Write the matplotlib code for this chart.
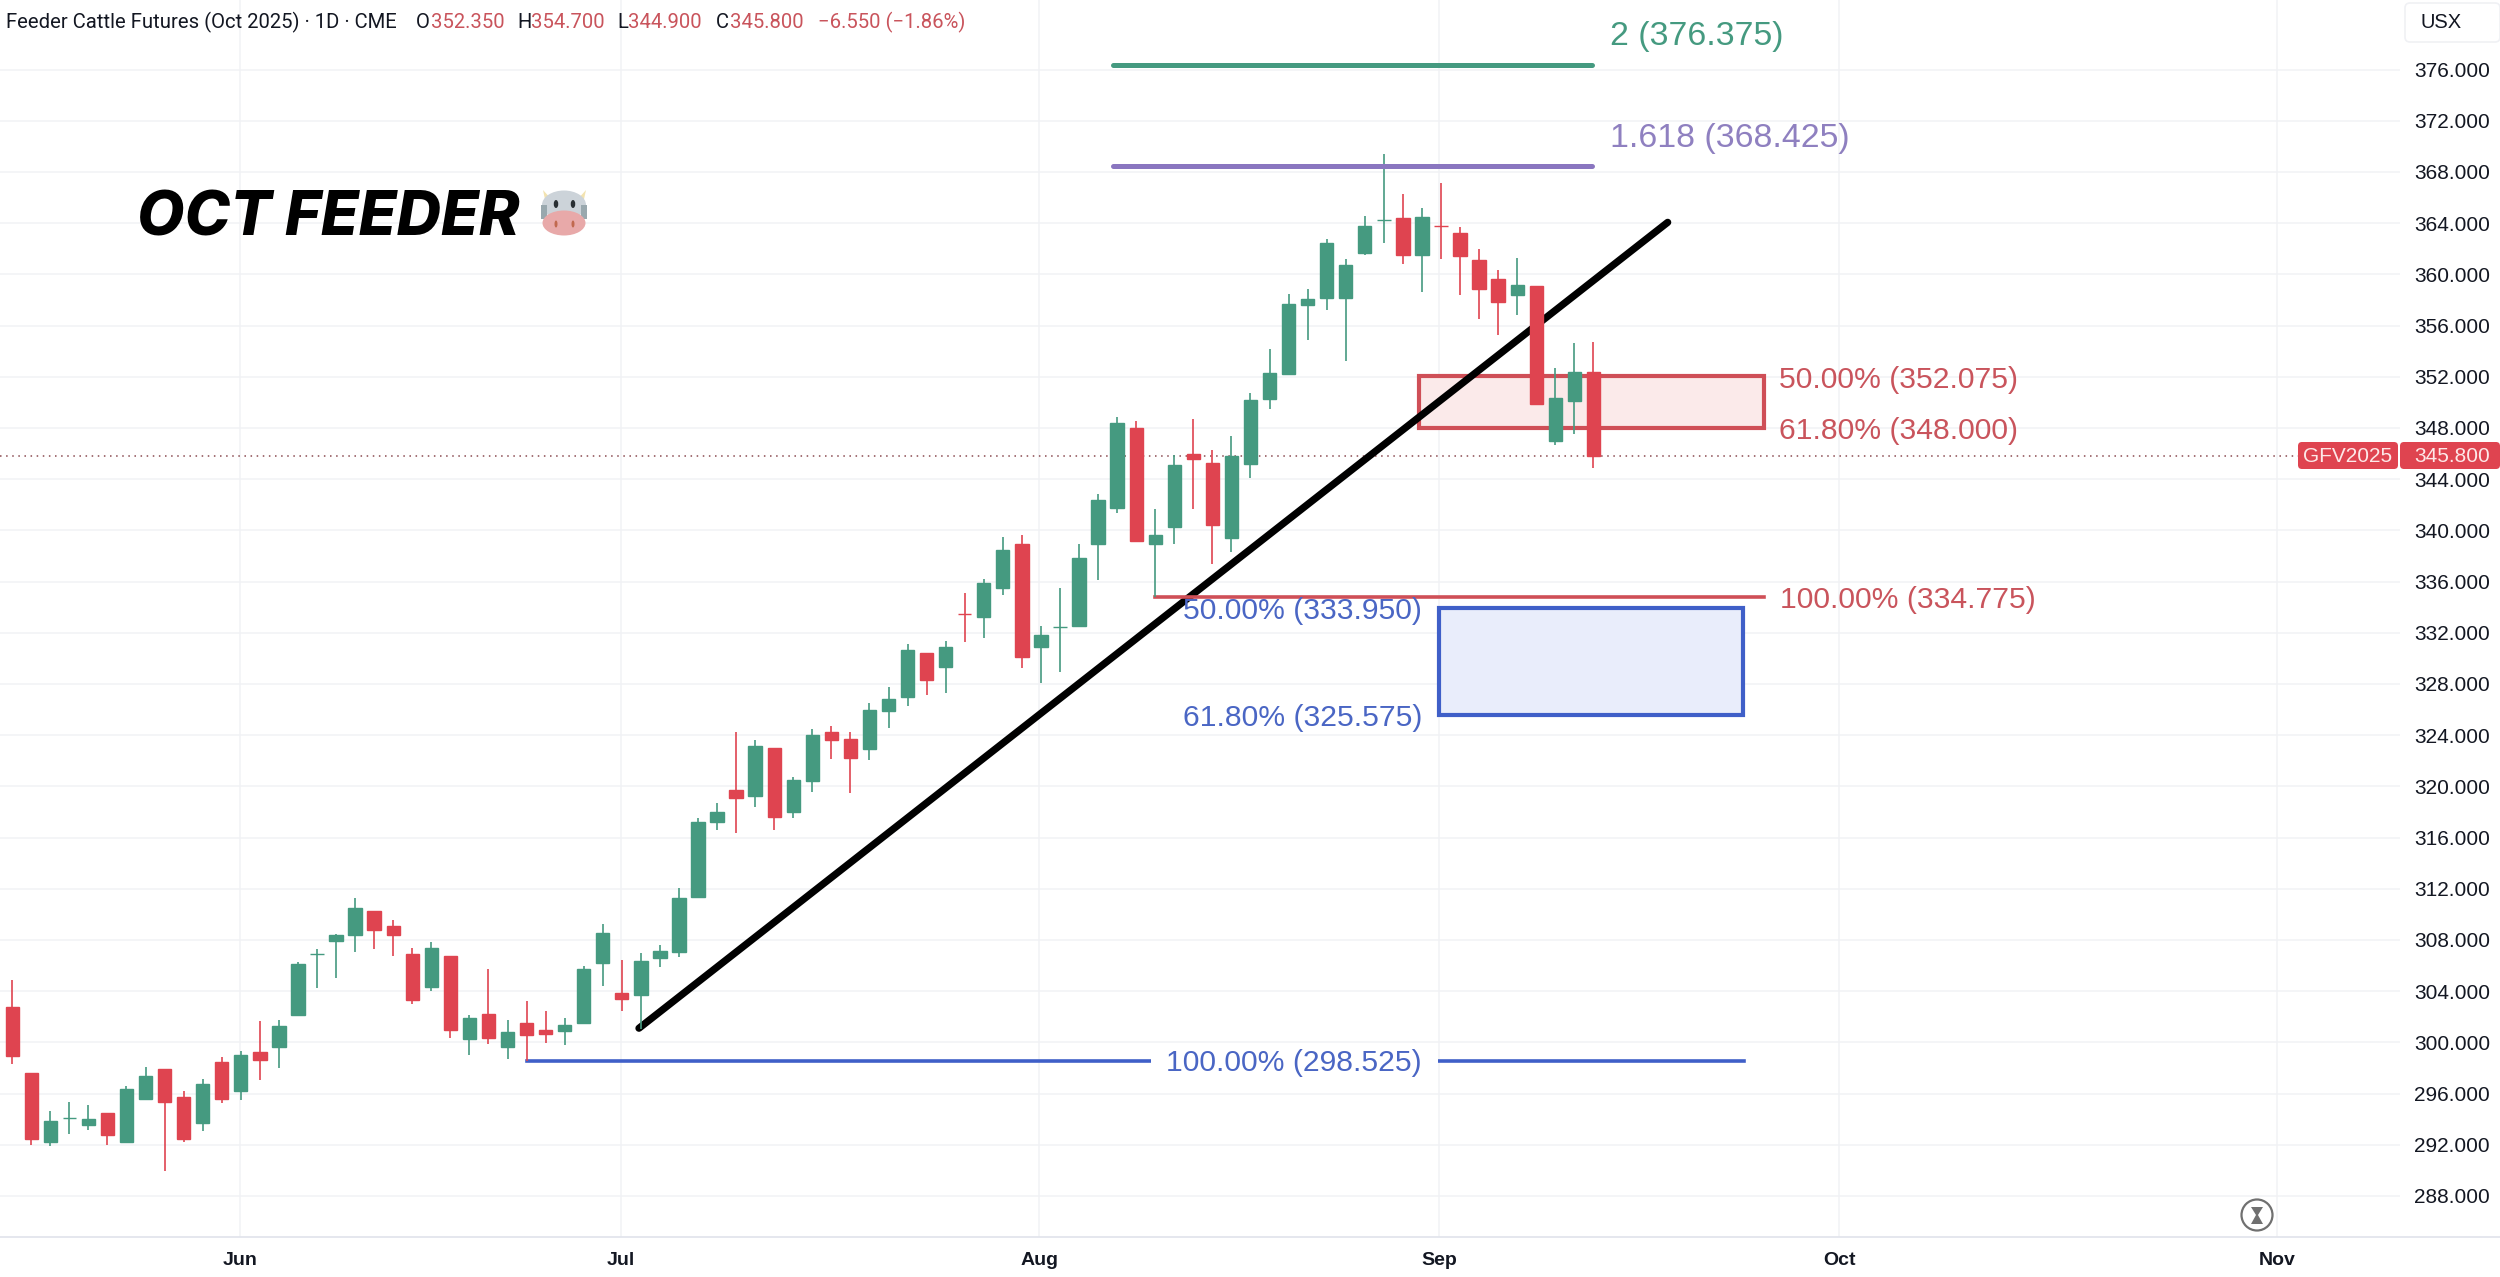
import matplotlib
matplotlib.use("Agg")
import matplotlib.pyplot as plt
from matplotlib.patches import Rectangle, Ellipse, Circle, Polygon, FancyBboxPatch
from matplotlib.lines import Line2D
from matplotlib.transforms import Affine2D

# daily candles, first one is mid May
opens = [302.75, 297.64, 292.20, 294.05, 293.55, 294.46, 292.20, 295.61, 297.95, 295.71, 293.68, 298.45,
         296.23, 299.26, 299.62, 302.10, 306.92, 307.91, 308.35, 310.25, 309.06, 306.92, 304.29, 306.74,
         300.25, 302.20, 299.62, 301.50, 300.95, 300.85, 301.52, 306.21, 303.82, 303.67, 306.60, 307.02,
         311.37, 317.20, 319.73, 319.23, 322.97, 317.98, 320.43, 324.28, 323.66, 322.94, 325.92, 326.98,
         330.44, 329.29, 333.48, 333.25, 335.48, 338.91, 330.88, 332.42, 332.56, 338.94, 341.73, 347.96,
         338.94, 340.27, 345.96, 345.28, 339.39, 345.15, 350.25, 352.18, 357.63, 358.12, 358.18, 361.67,
         364.22, 364.38, 361.49, 363.75, 363.21, 361.15, 359.64, 358.41, 359.06, 346.94, 350.07, 352.35]
highs = [304.83, 297.64, 294.67, 295.35, 295.09, 294.46, 296.57, 298.06, 297.95, 296.16, 297.12, 298.87,
         299.31, 301.63, 301.71, 306.24, 307.31, 308.48, 311.30, 310.25, 309.58, 307.36, 307.86, 306.74,
         302.10, 305.69, 301.76, 303.24, 302.44, 301.92, 305.93, 309.21, 306.40, 306.94, 307.63, 312.04,
         317.56, 318.67, 324.28, 323.58, 322.97, 320.74, 324.47, 324.72, 324.28, 326.48, 327.76, 331.08,
         330.44, 331.39, 335.12, 336.18, 339.50, 339.67, 332.50, 335.46, 338.91, 342.85, 348.85, 348.53,
         341.68, 345.85, 348.72, 346.24, 347.34, 350.75, 354.19, 358.49, 358.88, 362.76, 361.17, 364.53,
         369.38, 366.25, 365.19, 367.14, 363.70, 362.01, 360.31, 361.28, 359.06, 352.70, 354.66, 354.70]
lows = [298.32, 291.99, 291.88, 292.85, 293.16, 291.99, 292.20, 295.61, 289.98, 292.20, 293.11, 295.24,
        295.53, 297.02, 297.98, 302.10, 304.26, 305.04, 307.05, 307.28, 306.71, 302.98, 303.97, 300.35,
        299.00, 299.86, 298.66, 298.525, 299.96, 299.78, 301.52, 304.39, 302.41, 301.05, 305.85, 306.66,
        311.37, 316.55, 316.33, 318.42, 316.61, 317.53, 319.59, 322.10, 319.48, 322.02, 324.56, 326.26,
        327.15, 327.32, 331.25, 331.58, 334.93, 329.27, 328.10, 328.96, 332.42, 336.13, 341.34, 339.13,
        334.775, 338.94, 341.63, 337.38, 338.27, 344.08, 349.45, 352.18, 354.84, 357.19, 353.22, 361.49,
        362.48, 360.83, 358.62, 361.22, 358.36, 356.53, 355.28, 356.85, 349.89, 346.68, 347.49, 344.90]
closes = [298.92, 292.43, 293.84, 294.05, 294.02, 292.74, 296.39, 297.33, 295.32, 292.43, 296.76, 295.61,
          299.02, 298.61, 301.26, 306.08, 306.92, 308.35, 310.49, 308.77, 308.40, 303.30, 307.36, 300.93,
          301.89, 300.30, 300.82, 300.61, 300.66, 301.39, 305.69, 308.51, 303.35, 306.38, 307.10, 311.31,
          317.22, 317.98, 319.09, 323.13, 317.61, 320.49, 323.97, 323.64, 322.24, 325.95, 326.84, 330.63,
          328.29, 330.91, 333.48, 335.87, 338.49, 330.08, 331.80, 332.42, 337.80, 342.33, 348.40, 339.13,
          339.62, 345.09, 345.56, 340.40, 345.82, 350.20, 352.29, 357.65, 358.07, 362.45, 360.70, 363.75,
          364.22, 361.49, 364.46, 363.75, 361.41, 358.85, 357.86, 359.14, 349.89, 350.33, 352.34, 345.80]

price_ticks = list(range(288, 377, 4))
month_labels = ["Jun", "Jul", "Aug", "Sep", "Oct", "Nov"]
month_index = [11.95, 31.95, 53.9, 74.9, 95.9, 118.9]

last_price = 345.8
fib_2 = 376.375
fib_1618 = 368.425
red_50 = 352.075
red_618 = 348.0
red_100 = 334.775
blue_50 = 333.95
blue_618 = 325.575
blue_100 = 298.525
trend_prices = [301.1, 364.06]

GREEN = "#459a80"
RED = "#df4450"
RED_TXT = "#c9545c"
BLUE = "#3f5fc8"
BLUE_TXT = "#4a66c4"
PURPLE = "#8a76c0"
PURPLE_TXT = "#8f80c0"
GRID = "#f1f2f5"
FONT = "Liberation Sans"

plt.rcParams["font.family"] = FONT

fig = plt.figure(figsize=(25, 12.77), dpi=100)
ax = fig.add_axes([0, 40 / 1277, 2400 / 2500, 1237 / 1277])
ax.set_xlim(-0.64, 125.34)
ax.set_ylim(284.79, 381.43)

# pixel coords of the picture, for the chart furniture
px = Affine2D().scale(1, -1).translate(0, 1277)

ax.set_axisbelow(True)
ax.grid(True, color=GRID, lw=1.1)
for s in ax.spines.values():
    s.set_visible(False)
ax.yaxis.tick_right()
ax.set_yticks(price_ticks, [f"{p:.3f}" for p in price_ticks])
ax.set_xticks(month_index, month_labels)
ax.tick_params(axis="y", length=0, pad=10, labelsize=15, labelcolor="#131722")
ax.tick_params(axis="x", length=0, pad=11, labelsize=14)
for t in ax.get_xticklabels():
    t.set_fontweight("bold")
    t.set_color("#131722")

# zones
ax.add_patch(Rectangle((73.85, red_618), 18.09, red_50 - red_618, fc="#fbeaea", ec="#cf4f57", lw=3, zorder=2))
ax.add_patch(Rectangle((74.9, blue_618), 15.97, blue_50 - blue_618, fc="#e9edfb", ec=BLUE, lw=3, zorder=2))

ax.axhline(last_price, color="#8a4a50", lw=1.1, ls=(0, (1, 3)), zorder=2)

ax.plot([32.9, 86.9], trend_prices, color="black", lw=5.2, solid_capstyle="round", zorder=3)

ax.plot([60, 91.94], [red_100, red_100], color="#cf4f57", lw=2.6, zorder=3)
ax.plot([27, 90.9], [blue_100, blue_100], color=BLUE, lw=2.6, zorder=3)

# candles
x = list(range(len(opens)))
colors = [GREEN if c >= o else RED for o, c in zip(opens, closes)]
colors[50] = RED
colors[62] = RED
colors[75] = RED
ax.vlines(x, lows, highs, colors=colors, lw=1.2, zorder=4)
body_low = [min(o, c) for o, c in zip(opens, closes)]
body_h = [abs(o - c) for o, c in zip(opens, closes)]
ax.bar(x, body_h, bottom=body_low, width=0.7, color=colors, edgecolor=colors, lw=1, zorder=5)

ax.plot([57.8, 82.95], [fib_2, fib_2], color=GREEN, lw=3.6, solid_capstyle="round", zorder=6)
ax.plot([57.8, 82.95], [fib_1618, fib_1618], color=PURPLE, lw=3.6, solid_capstyle="round", zorder=6)

# level labels
big = 24.4
fib = 21.7
fig.text(1610, 36, "2 (376.375)", transform=px, color=GREEN, fontsize=big, va="center")
fig.text(1610, 138, "1.618 (368.425)", transform=px, color=PURPLE_TXT, fontsize=big, va="center")
fig.text(1779, 380, "50.00% (352.075)", transform=px, color=RED_TXT, fontsize=fib, va="center")
fig.text(1779, 431, "61.80% (348.000)", transform=px, color=RED_TXT, fontsize=fib, va="center")
fig.text(1780, 600, "100.00% (334.775)", transform=px, color=RED_TXT, fontsize=fib, va="center")
fig.text(1422, 611, "50.00% (333.950)", transform=px, color=BLUE_TXT, fontsize=fib, va="center", ha="right", zorder=7)
fig.text(1422, 718, "61.80% (325.575)", transform=px, color=BLUE_TXT, fontsize=fib, va="center", ha="right")
fig.add_artist(Rectangle((1151, 1050), 287, 24, transform=px, fc="white", ec="none"))
fig.text(1422, 1063, "100.00% (298.525)", transform=px, color=BLUE_TXT, fontsize=fib, va="center", ha="right")

# header line
hdr = 14.6
DARK = "#131722"
VAL = "#c9545c"
for hx, s, c in [(6, "Feeder Cattle Futures (Oct 2025) · 1D · CME", DARK), (416, "O", DARK), (431, "352.350", VAL),
                 (517, "H", DARK), (531, "354.700", VAL), (617, "L", DARK), (628, "344.900", VAL),
                 (716, "C", DARK), (730, "345.800", VAL), (818, "−6.550 (−1.86%)", VAL)]:
    fig.text(hx, 22, s, transform=px, color=c, fontsize=hdr, va="center", family="Roboto")

# title and cow
fig.text(137, 220, "OCT FEEDER", transform=px, fontsize=44.2, fontweight="heavy", fontstyle="italic",
         family="Inter", color="black", va="center")
fig.add_artist(Polygon([(543, 190), (552, 200), (546, 204)], transform=px, fc="#f3e3b0", ec="none"))
fig.add_artist(Polygon([(586, 190), (577, 200), (583, 204)], transform=px, fc="#f3e3b0", ec="none"))
fig.add_artist(Ellipse((564, 205), 44, 29, transform=px, fc="#ccd3d9", ec="none"))
fig.add_artist(Rectangle((541, 205), 6, 14, transform=px, fc="#99a8ae", ec="none"))
fig.add_artist(Rectangle((581, 205), 6, 14, transform=px, fc="#99a8ae", ec="none"))
fig.add_artist(Ellipse((564, 223), 43, 25, transform=px, fc="#e8a9a9", ec="none"))
for ex in (556, 573):
    fig.add_artist(Ellipse((ex, 204), 4.5, 8, transform=px, fc="#292f33", ec="none"))
    fig.add_artist(Ellipse((ex, 224), 3, 7, transform=px, fc="#c1694f", ec="none"))

# price axis furniture
fig.add_artist(FancyBboxPatch((2405, 3), 95, 39, boxstyle="round,pad=0,rounding_size=5",
                              transform=px, fc="white", ec="#f0f1f4", lw=1.2))
fig.text(2420, 22, "USX", transform=px, fontsize=14.5, color=DARK, va="center")
fig.add_artist(FancyBboxPatch((2300, 444), 96, 23, boxstyle="round,pad=2,rounding_size=4",
                              transform=px, fc=RED, ec="none"))
fig.add_artist(FancyBboxPatch((2402, 444), 96, 23, boxstyle="round,pad=2,rounding_size=4",
                              transform=px, fc=RED, ec="none"))
fig.text(2348, 456, "GFV2025", transform=px, fontsize=15, color="#fde8e8", ha="center", va="center")
fig.text(2452, 456, "345.800", transform=px, fontsize=15, color="#fde8e8", ha="center", va="center")

# bottom axis line
fig.add_artist(Line2D([0, 2500], [1237, 1237], transform=px, color="#e0e3eb", lw=1.2))

# hourglass logo
fig.add_artist(Circle((2257, 1215), 15.5, transform=px, fc="white", ec="#707070", lw=1.6))
fig.add_artist(Polygon([(2251, 1207), (2263, 1207), (2258, 1215), (2263, 1224), (2251, 1224), (2256, 1215)],
                       transform=px, fc="#707070", ec="none"))

fig.savefig("out.png", dpi=100, facecolor="white")
